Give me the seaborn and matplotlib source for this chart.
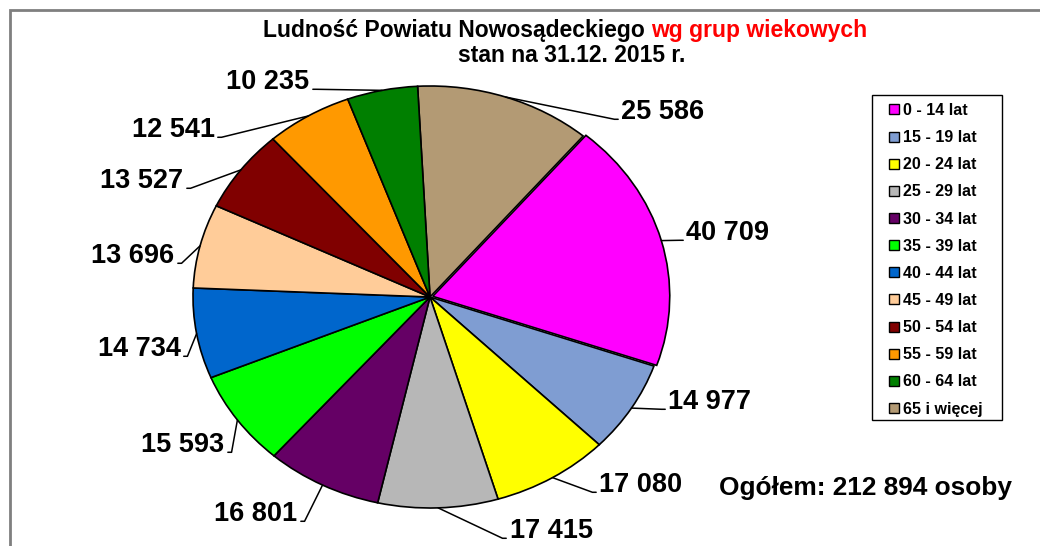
import numpy as np
import seaborn as sns
import matplotlib.pyplot as plt
from matplotlib.lines import Line2D
from matplotlib.patches import Rectangle

# data, clockwise from the top of the pie
groups = ['65 i więcej', '0 - 14 lat', '15 - 19 lat', '20 - 24 lat', '25 - 29 lat',
          '30 - 34 lat', '35 - 39 lat', '40 - 44 lat', '45 - 49 lat', '50 - 54 lat',
          '55 - 59 lat', '60 - 64 lat']
people = [25586, 40709, 14977, 17080, 17415, 16801, 15593, 14734, 13696, 13527,
          12541, 10235]
colors = ['#b39a74', '#ff00ff', '#7f9dd2', '#ffff00', '#b7b7b7', '#650065',
          '#00ff00', '#0066cc', '#ffcc99', '#800000', '#ff9900', '#007f00']
legend_order = groups[1:] + groups[:1]
total_label = 'Ogółem: 212 894 osoby'

# where each value label sits (figure pixels, measured from the top)
label_pos = [(663, 112), (728, 233), (710, 402), (641, 485), (551, 531), (256, 514),
             (183, 445), (139, 349), (133, 256), (142, 181), (173, 130), (268, 82)]

sns.set_theme(style='white')
plt.rcParams['font.family'] = ['Liberation Sans', 'DejaVu Sans']
plt.rcParams['text.color'] = 'black'

W, H = 1040, 546
fig = plt.figure(figsize=(W / 100, H / 100), dpi=100)

# elliptical pie: centre (430, 297), radii 237 x 211 px
cx, cy, rx, ry = 430, 297, 237, 211
ax = fig.add_axes([(cx - rx) / W, (H - cy - ry) / H, 2 * rx / W, 2 * ry / H])
explode = [0.012 if g == '0 - 14 lat' else 0 for g in groups]
wedges, _ = ax.pie(people, colors=colors, startangle=93, counterclock=False,
                   explode=explode,
                   wedgeprops=dict(edgecolor='black', linewidth=1.2))
ax.set_aspect('auto')
ax.set_xlim(-1, 1)
ax.set_ylim(-1, 1)
ax.axis('off')

for w, v, (px, py) in zip(wedges, people, label_pos):
    mid = np.deg2rad((w.theta1 + w.theta2) / 2)
    ox, oy = w.center
    right = px > cx
    ax.annotate(f'{v:,}'.replace(',', ' '),
                xy=(ox + np.cos(mid), oy + np.sin(mid)), xycoords='data',
                xytext=(px, H - py), textcoords='figure pixels',
                ha='center', va='center', fontsize=19.5, fontweight='bold',
                annotation_clip=False,
                arrowprops=dict(arrowstyle='-', color='black', lw=1.1,
                                shrinkA=0, shrinkB=0,
                                relpos=(0, 0.22) if right else (1, 0.22),
                                connectionstyle='arc,angleA=%d,armA=7,angleB=0,armB=0,rad=0'
                                % (180 if right else 0)))

# title, black + red part
t1 = fig.text(0, 0, 'Ludność Powiatu Nowosądeckiego', fontsize=16.5, fontweight='bold',
              color='black', va='center')
t2 = fig.text(0, 0, 'wg grup wiekowych', fontsize=16.5, fontweight='bold',
              color='#ff0000', va='center')
fig.canvas.draw()
r = fig.canvas.get_renderer()
w1 = t1.get_window_extent(r).width
w2 = t2.get_window_extent(r).width
gap = 6
x0 = 565 - (w1 + gap + w2) / 2
t1.set_position((x0 / W, 1 - 30 / H))
t2.set_position(((x0 + w1 + gap) / W, 1 - 30 / H))
fig.text(572 / W, 1 - 55 / H, 'stan na 31.12. 2015 r.', fontsize=16.5,
         fontweight='bold', ha='center', va='center')

fig.text(719 / W, 1 - 488 / H, total_label, fontsize=18.9, fontweight='bold',
         ha='left', va='center')

# legend (frame drawn separately)
col_of = dict(zip(groups, colors))
handles = [Line2D([], [], linestyle='none', marker='s', markersize=7.5,
                  markerfacecolor=col_of[g], markeredgecolor='black', markeredgewidth=1)
           for g in legend_order]
leg = fig.legend(handles, legend_order, loc='upper left',
                 bbox_to_anchor=(887 / W, 1 - 103 / H), borderaxespad=0,
                 borderpad=0, frameon=False, prop=dict(weight='bold', size=11.5),
                 handlelength=0.9, handletextpad=0.1, labelspacing=0.76)
fig.add_artist(Rectangle((872 / W, 1 - 420 / H), 130 / W, 325 / H, fill=False,
                         edgecolor='black', linewidth=1, transform=fig.transFigure))

# outer chart frame (only top and left visible)
fig.add_artist(Rectangle((10 / W, -0.2), 1.5, (H - 10) / H + 0.2, fill=False,
                         edgecolor='#7f7f7f', linewidth=2, transform=fig.transFigure,
                         clip_on=False))

fig.savefig('out.png', dpi=100)
